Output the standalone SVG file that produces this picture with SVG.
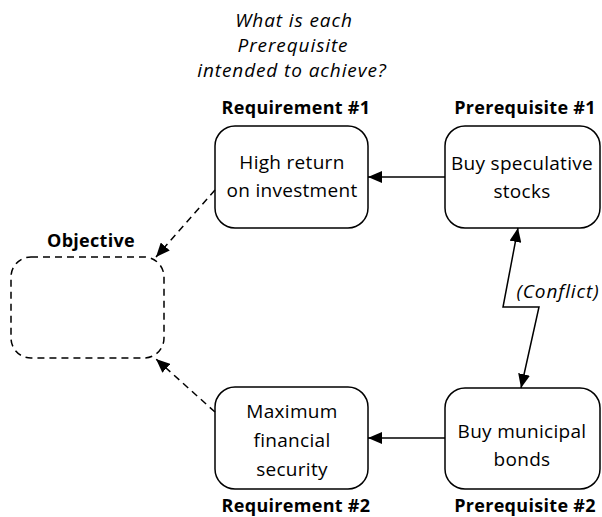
<svg xmlns="http://www.w3.org/2000/svg" width="602" height="517" viewBox="0 0 602 517">
  <style>
    .box { fill: #fff; stroke: #000; stroke-width: 1.5; }
    .obj { fill: none; stroke: #000; stroke-width: 1.5; stroke-dasharray: 7 5; }
    .body { font-family: "Open Sans", "Liberation Sans", sans-serif; font-size: 19px; letter-spacing: 0.3px; fill: #000; text-anchor: middle; }
    .head { font-family: "Open Sans", "Liberation Sans", sans-serif; font-size: 18px; letter-spacing: 0.3px; font-weight: bold; fill: #000; text-anchor: middle; }
    .note { font-family: "Open Sans", "Liberation Sans", sans-serif; font-size: 19px; letter-spacing: 0.9px; font-style: italic; fill: #000; text-anchor: middle; }
    .link { fill: none; stroke: #000; stroke-width: 1.5; }
    .dash { stroke-dasharray: 7 5; }
  </style>
  <defs>
    <marker id="arrow" viewBox="0 0 14 12" refX="14" refY="6" markerWidth="14" markerHeight="12" markerUnits="userSpaceOnUse" orient="auto-start-reverse">
      <path d="M0,0 L14,6 L0,12 Z" fill="#000"/>
    </marker>
  </defs>

  <!-- guiding question -->
  <g id="question">
    <text class="note" x="294" y="27">What is each</text>
    <text class="note" x="293" y="52">Prerequisite</text>
    <text class="note" x="292" y="77">intended to achieve?</text>
  </g>

  <g id="objective">
    <text class="head" x="91" y="247">Objective</text>
    <rect class="obj" x="11" y="257" width="153" height="101" rx="20"/>
  </g>

  <g id="requirement1">
    <text class="head" x="296" y="114">Requirement #1</text>
    <rect class="box" x="215" y="126" width="153" height="102" rx="20"/>
    <text class="body" x="292" y="169">High return</text>
    <text class="body" x="292" y="197">on investment</text>
  </g>

  <g id="prerequisite1">
    <text class="head" x="525" y="114">Prerequisite #1</text>
    <rect class="box" x="445" y="126" width="155" height="102" rx="20"/>
    <text class="body" x="522" y="170">Buy speculative</text>
    <text class="body" x="522" y="198">stocks</text>
  </g>

  <g id="requirement2">
    <rect class="box" x="215" y="387" width="153" height="102" rx="20"/>
    <text class="body" x="292" y="418">Maximum</text>
    <text class="body" x="292" y="447">financial</text>
    <text class="body" x="292" y="476">security</text>
    <text class="head" x="296" y="512">Requirement #2</text>
  </g>

  <g id="prerequisite2">
    <rect class="box" x="445" y="388" width="155" height="101" rx="20"/>
    <text class="body" x="522" y="438">Buy municipal</text>
    <text class="body" x="522" y="466">bonds</text>
    <text class="head" x="525" y="512">Prerequisite #2</text>
  </g>

  <g id="connectors">
    <line class="link" x1="445" y1="177" x2="368" y2="177" marker-end="url(#arrow)"/>
    <line class="link" x1="445" y1="438" x2="368" y2="438" marker-end="url(#arrow)"/>
    <line class="link dash" x1="215" y1="190" x2="156" y2="257" marker-end="url(#arrow)"/>
    <line class="link dash" x1="215" y1="412" x2="156" y2="359" marker-end="url(#arrow)"/>
    <polyline class="link" points="518,228 503,307 539,307 521,388" marker-start="url(#arrow)" marker-end="url(#arrow)"/>
    <text class="note" x="558" y="298">(Conflict)</text>
  </g>
</svg>
